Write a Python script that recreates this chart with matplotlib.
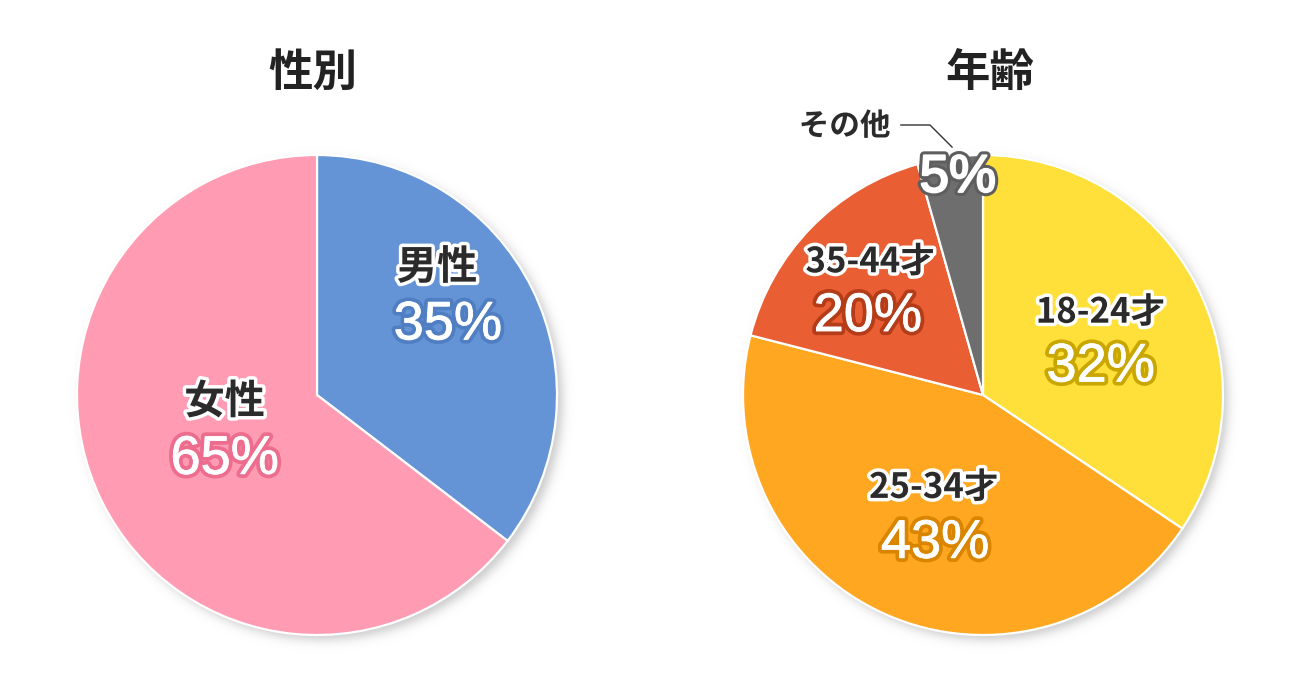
import numpy as np
import matplotlib
matplotlib.use("Agg")
import matplotlib.pyplot as plt
import matplotlib.patheffects as pe

plt.rcParams['font.family'] = ['Noto Sans CJK JP', 'DejaVu Sans']

# ---- data ----
gender_titles = "性別"
gender_labels = ["男性", "女性"]
gender_values = [35.4, 64.6]
gender_pct = ["35%", "65%"]
gender_colors = ["#6494D6", "#FF9BB2"]
gender_strokes = ["#4F7EC2", "#EC6D8E"]

age_title = "年齢"
age_labels = ["18-24才", "25-34才", "35-44才", "その他"]
age_values = [34.4, 44.6, 16.6, 4.4]
age_pct = ["32%", "43%", "20%", "5%"]
age_colors = ["#FFE03A", "#FFA720", "#E95E33", "#6E6E6E"]
age_strokes = ["#C9A700", "#D98500", "#B53C18", "#5E5E5E"]

W, H = 1300, 684
R_PX = 240.0
HALF = 300.0
PCT_FONT = ['Liberation Sans', 'DejaVu Sans']

fig = plt.figure(figsize=(W / 100, H / 100), dpi=100)


def make_axes(cx, cy_top):
    ax = fig.add_axes([(cx - HALF) / W, (H - cy_top - HALF) / H, 2 * HALF / W, 2 * HALF / H])
    lim = HALF / R_PX
    # soft shadow
    n = 600
    g = np.linspace(-lim, lim, n)
    X, Y = np.meshgrid(g, g)
    off = 5 / R_PX
    d = (np.sqrt((X - off) ** 2 + (Y + off) ** 2) - 1.0) * R_PX
    alpha = 0.32 / (1 + np.exp(d / 3.0))
    img = np.zeros((n, n, 4))
    img[..., 0:3] = 0.35
    img[..., 3] = alpha
    ax.imshow(img, extent=[-lim, lim, -lim, lim], origin='lower', zorder=0, interpolation='bilinear')
    return ax


def finish(ax):
    lim = HALF / R_PX
    ax.set_xlim(-lim, lim)
    ax.set_ylim(-lim, lim)
    ax.set_aspect('equal')
    ax.axis('off')


def cat_text(ax, x, y, s, size):
    ax.text(x, y, s, ha='center', va='center', fontsize=size, fontweight='bold', color='#2B2B2B',
            zorder=5, path_effects=[pe.Stroke(linewidth=5, foreground='white'), pe.Normal()])


def pct_text(ax, x, y, s, stroke, size=39, boost=0.6):
    ax.text(x, y, s, ha='center', va='center', fontsize=size, family=PCT_FONT, color='white',
            zorder=5, path_effects=[pe.Stroke(linewidth=6, foreground=stroke),
                                    pe.Stroke(linewidth=boost, foreground='white'), pe.Normal()])


# ---- left pie ----
ax1 = make_axes(317, 395)
ax1.pie(gender_values, colors=gender_colors, startangle=90, counterclock=False, radius=1.0,
        wedgeprops=dict(edgecolor='white', linewidth=1.6), frame=False)
finish(ax1)

cat_text(ax1, 0.50, 0.53, gender_labels[0], 29)
pct_text(ax1, 0.545, 0.29, gender_pct[0], gender_strokes[0])
cat_text(ax1, -0.385, -0.03, gender_labels[1], 29)
pct_text(ax1, -0.385, -0.27, gender_pct[1], gender_strokes[1])

# ---- right pie ----
ax2 = make_axes(983, 395)
ax2.pie(age_values, colors=age_colors, startangle=90, counterclock=False, radius=1.0,
        wedgeprops=dict(edgecolor='white', linewidth=1.6), frame=False)
finish(ax2)

cat_text(ax2, 0.49, 0.345, age_labels[0], 25)
pct_text(ax2, 0.49, 0.115, age_pct[0], age_strokes[0])
cat_text(ax2, -0.205, -0.385, age_labels[1], 25)
pct_text(ax2, -0.20, -0.62, age_pct[1], age_strokes[1])
cat_text(ax2, -0.47, 0.555, age_labels[2], 25)
pct_text(ax2, -0.48, 0.325, age_pct[2], age_strokes[2])
cat_text(ax2, -0.577, 1.12, age_labels[3], 22)
pct_text(ax2, -0.105, 0.905, age_pct[3], age_strokes[3], size=38, boost=1.6)
ax2.plot([-0.342, -0.221, -0.129], [1.125, 1.125, 1.033], color='#333333', lw=1.0, zorder=4,
         clip_on=False)

# ---- titles ----
fig.text(313 / W, 1 - 73 / H, gender_titles, ha='center', va='center', fontsize=32,
         fontweight='bold', color='#222222')
fig.text(990 / W, 1 - 73 / H, age_title, ha='center', va='center', fontsize=32,
         fontweight='bold', color='#222222')

fig.savefig("out.png", dpi=100, facecolor='white')
